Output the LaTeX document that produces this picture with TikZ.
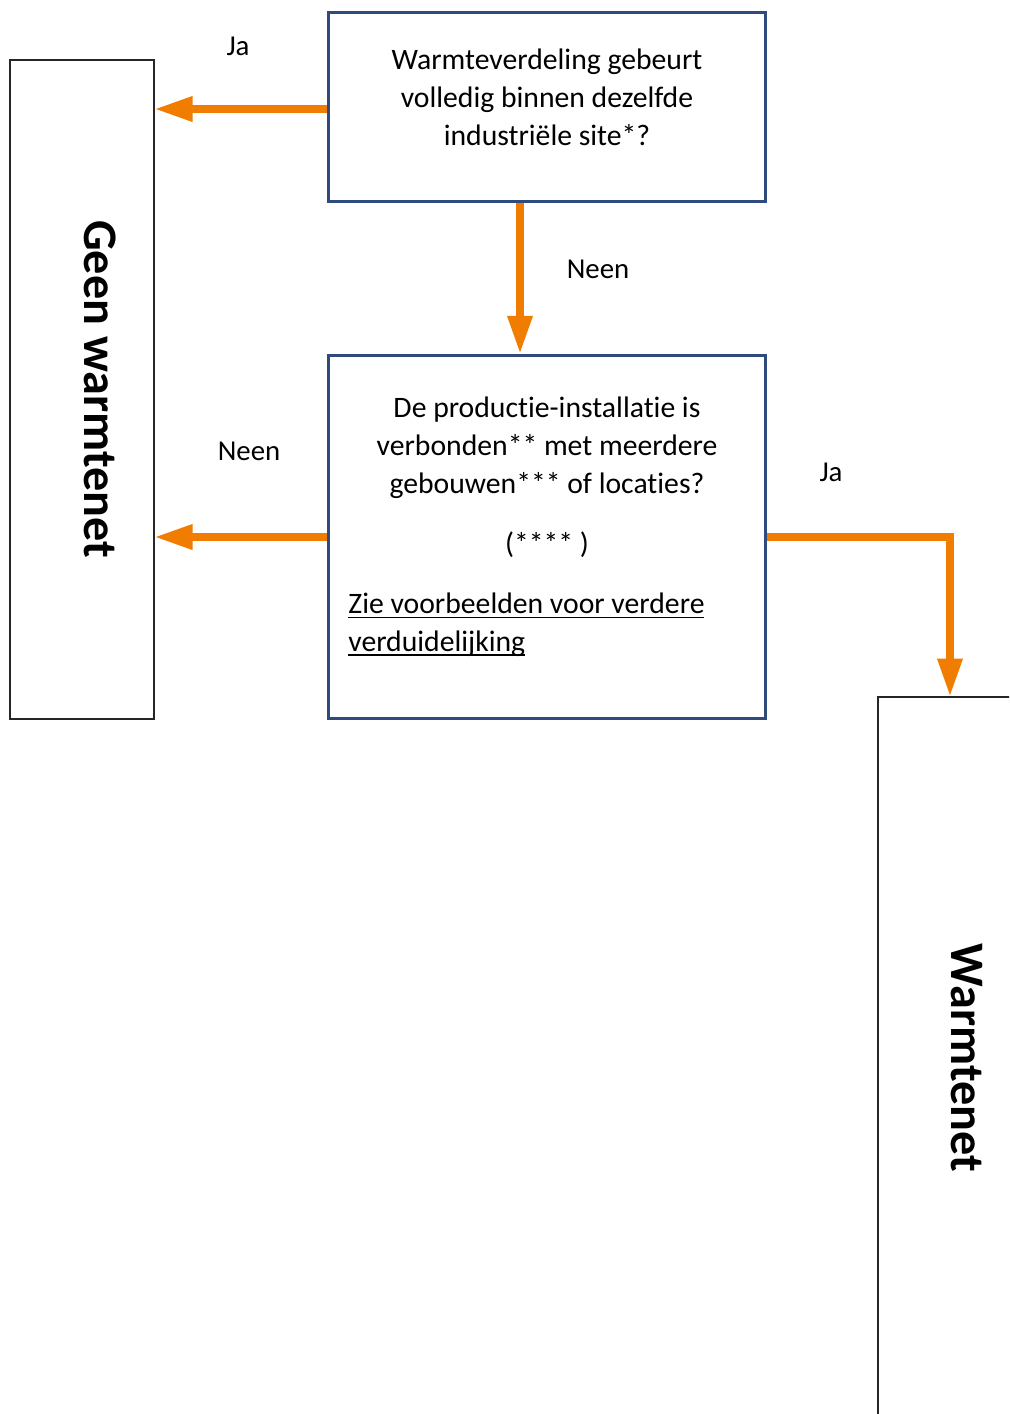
\documentclass[tikz,border=0pt]{standalone}
\usepackage{fontspec}
\setmainfont{Carlito}[Ligatures=CommonOff]
\usetikzlibrary{arrows.meta}

\definecolor{flowor}{HTML}{F07C00}
\definecolor{boxblue}{HTML}{2F4A7C}

\newcommand{\linkline}[1]{\setbox0\hbox{#1}\rlap{\rule[-2.4pt]{\wd0}{0.85pt}}\box0}

\tikzset{
	question/.style={draw=boxblue, line width=1.7pt, minimum width=8.76cm, inner sep=0pt},
	outcome/.style={draw=black!85, line width=0.9pt, minimum width=2.88cm, inner sep=0pt},
	flow/.style={draw=flowor, line width=4pt, -{Triangle[length=21.5pt, width=13.6pt]}},
	txt/.style={font=\fontsize{16.9}{21.6}\selectfont, align=center, inner sep=0pt},
	answer/.style={font=\fontsize{16.4}{20}\selectfont, inner sep=0pt},
	bigtxt/.style={font=\fontsize{27.4}{32}\selectfont\bfseries, rotate=-90, inner sep=0pt}
}

\begin{document}
\begin{tikzpicture}[x=0.02cm, y=-0.02cm]
	\useasboundingbox (0,0) rectangle (1009,1414);
	\clip (0,0) rectangle (1009,1414);
	% boxes
	\node[question, minimum height=3.8cm] (q1) at (547,107) {};
	\node[question, minimum height=7.28cm] (q2) at (547,537) {};
	\node[outcome, minimum height=13.18cm] (nowarm) at (82,389.5) {};
	\node[outcome, minimum height=14.44cm] (warm) at (950,1058) {};
	% texts
	\node[txt] (q1text) at (547,97) {Warmteverdeling gebeurt\\volledig binnen dezelfde\\industriële site*?};
	\node[txt] (q2text) at (547,448) {De productie-installatie is\\verbonden** met meerdere\\gebouwen*** of locaties?};
	\node[txt] (q2stars) at (547,545) {(**** )};
	\node[txt, anchor=west, align=left] (q2link) at (348,625) {\linkline{Zie voorbeelden voor verdere}\\\linkline{verduidelijking}};
	\node[bigtxt] (nowarmtext) at (100,389) {Geen warmtenet};
	\node[bigtxt] (warmtext) at (967,1058) {Warmtenet};
	% answers
	\node[answer] (ja1) at (238,46) {Ja};
	\node[answer] (neen1) at (598,269) {Neen};
	\node[answer] (neen2) at (249,451) {Neen};
	\node[answer] (ja2) at (831,472) {Ja};
	% arrows
	\draw[flow] ([yshift=-0.04cm]q1.west) -- ([yshift=-0.04cm]q1.west -| nowarm.east);
	\draw[flow] ([xshift=-0.54cm]q1.south) -- ([xshift=-0.54cm]q2.north);
	\draw[flow] (q2.west) -- (q2.west -| nowarm.east);
	\draw[flow] (q2.east) -| (warm.north);
\end{tikzpicture}
\end{document}
